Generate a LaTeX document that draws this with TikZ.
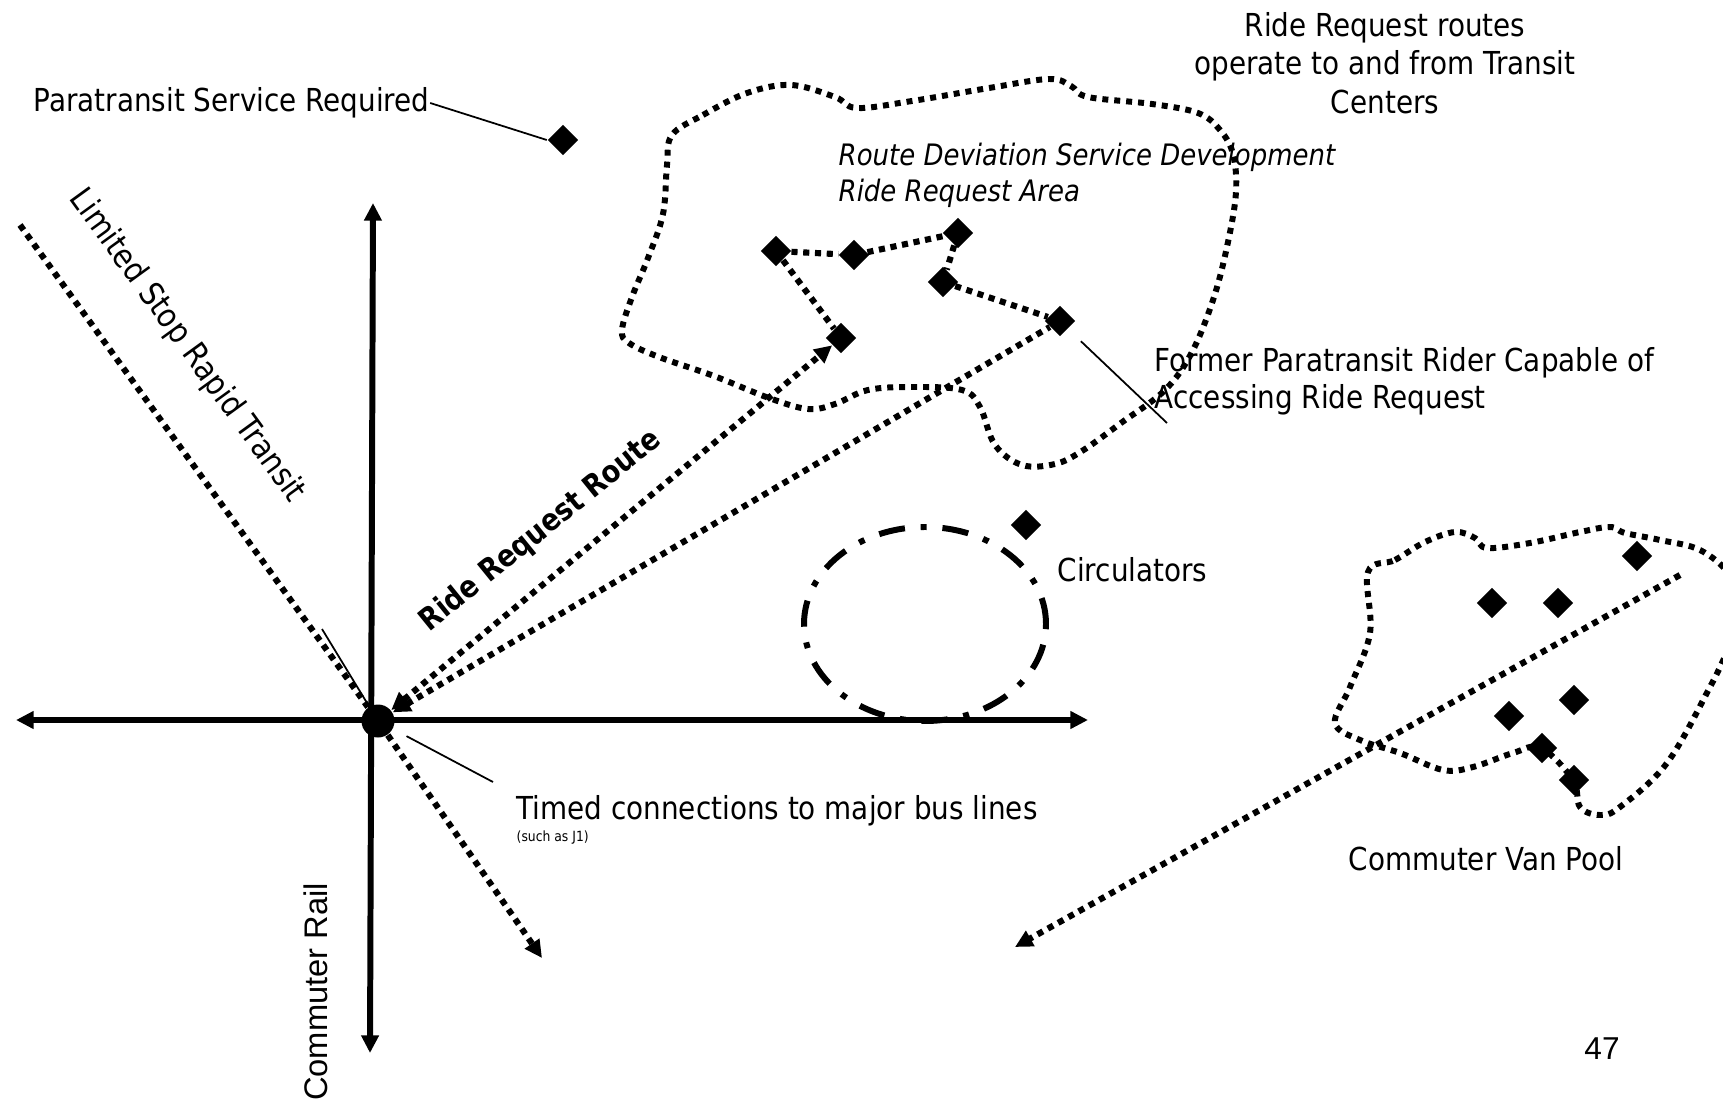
\documentclass[tikz,border=0pt]{standalone}
\usepackage{fontspec}
\setmainfont{DejaVu Sans}[FakeStretch=0.88]
\newfontfamily\railfont{Liberation Sans}
\usetikzlibrary{positioning, arrows.meta, shapes.geometric}

\begin{document}
\begin{tikzpicture}[
  font=\fontsize{9}{10.9}\selectfont,
  >={Triangle[length=5pt, width=4.8pt]},
  axis/.style={line width=1.7pt, <->},
  route/.style={line width=1.75pt, dash pattern=on 1.75pt off 1.6pt},
  zone/.style={line width=1.7pt, dash pattern=on 1.7pt off 1.7pt},
  ring/.style={ellipse, draw, line width=1.7pt, minimum width=2.42cm, minimum height=1.94cm,
               dash pattern=on 7.5pt off 4.5pt on 1.7pt off 4.5pt},
  stop/.style={diamond, fill=black, inner sep=0pt, minimum size=0.31cm},
  hub/.style={circle, fill=black, inner sep=0pt, minimum size=0.33cm},
  leader/.style={line width=0.5pt},
  lbl/.style={inner sep=0pt},
]
\path[use as bounding box, fill=white] (0,0) rectangle (17.23,-11);

% --- service areas ---
\draw[zone] plot[smooth cycle, tension=0.6] coordinates {
  (6.72,-1.35) (7.03,-1.15) (7.47,-0.93) (7.91,-0.85) (8.35,-0.97) (8.57,-1.08)
  (9.12,-1.01) (9.89,-0.88) (10.49,-0.79) (10.71,-0.86) (10.88,-0.97) (11.52,-1.04)
  (11.98,-1.13) (12.20,-1.30) (12.33,-1.54) (12.36,-1.92) (12.28,-2.42) (12.14,-2.97)
  (11.92,-3.52) (11.65,-3.90) (11.21,-4.23) (10.82,-4.51) (10.55,-4.64) (10.22,-4.65)
  (9.95,-4.45) (9.80,-4.07) (9.62,-3.90) (9.12,-3.87) (8.68,-3.90) (8.35,-4.04)
  (8.08,-4.09) (7.69,-3.98) (7.14,-3.76) (6.59,-3.57) (6.29,-3.43) (6.22,-3.30)
  (6.32,-2.97) (6.48,-2.58) (6.63,-2.14) (6.67,-1.65)};
\draw[zone] plot[smooth cycle, tension=0.6] coordinates {
  (13.68,-5.72) (13.95,-5.60) (14.25,-5.42) (14.55,-5.32) (14.75,-5.38) (14.87,-5.48)
  (15.30,-5.43) (15.80,-5.32) (16.10,-5.27) (16.25,-5.33) (16.60,-5.40) (17.00,-5.50)
  (17.30,-5.75) (17.45,-6.10) (17.30,-6.45) (17.10,-6.87) (16.67,-7.63) (16.20,-8.07)
  (16.00,-8.15) (15.80,-8.07) (15.73,-7.80) (15.41,-7.48) (15.13,-7.53) (14.73,-7.67)
  (14.43,-7.70) (14.00,-7.53) (13.60,-7.40) (13.35,-7.23) (13.50,-6.87) (13.70,-6.33)};
\node[ring] (circ) at (9.25,-6.24) {};

% --- axes and transit center ---
\coordinate (axW) at (0.16,-7.20);
\coordinate (axE) at (10.88,-7.20);
\coordinate (axN) at (3.73,-2.03);
\coordinate (axS) at (3.70,-10.53);
\coordinate (lsTop) at (0.20,-2.25);
\coordinate (lsEnd) at (5.42,-9.58);
\coordinate (lsLead) at (3.22,-6.29);
\coordinate (tcTip) at (4.93,-7.82);
\coordinate (vpStart) at (16.80,-5.75);
\coordinate (vpEnd) at (10.15,-9.47);
\coordinate (fprTip) at (11.67,-4.23);

\draw[axis] (axW) -- (axE);
\draw[axis] (axN) -- (axS);
\node[hub] (hub) at (3.78,-7.21) {};

% --- stops ---
\node[stop] (pdiam) at (5.63,-1.40) {};
\node[stop] (a) at (7.76,-2.51) {};
\node[stop] (b) at (8.54,-2.55) {};
\node[stop] (c) at (9.58,-2.33) {};
\node[stop] (d) at (9.43,-2.82) {};
\node[stop] (e) at (10.60,-3.21) {};
\node[stop] (f) at (8.41,-3.38) {};
\node[stop] (cstop) at (10.26,-5.25) {};
\node[stop] (v1) at (16.37,-5.56) {};
\node[stop] (v2) at (14.92,-6.03) {};
\node[stop] (v3) at (15.58,-6.03) {};
\node[stop] (v4) at (15.74,-7.00) {};
\node[stop] (v5) at (15.09,-7.16) {};
\node[stop] (v6) at (15.42,-7.48) {};
\node[stop] (v7) at (15.74,-7.80) {};

% --- routes ---
\draw[route] (a) -- (b);
\draw[route] (b) -- (c);
\draw[route] (c) -- (d);
\draw[route] (d) -- (e);
\draw[route] (a) -- (f);
\draw[route, <->] (hub) -- (f);
\draw[route, <-] (hub) -- (e);
\draw[route] (lsTop) -- (hub);
\draw[route, ->] (hub) -- (lsEnd);
\draw[route, ->] (vpStart) -- (vpEnd);

% --- labels ---
\node[lbl, anchor=west] (para) at (0.33,-1.03) {Paratransit Service Required};
\draw[leader] (para.east) -- (pdiam.west);
\node[lbl, align=center] (rrr) at (13.85,-0.63) {Ride Request routes\\operate to and from Transit\\Centers};
\node[lbl, anchor=west, align=left, font=\fontsize{8.4}{10.2}\selectfont\itshape] (rdsd) at (8.38,-1.75)
      {Route Deviation Service Development\\Ride Request Area};
\node[lbl, anchor=west, align=left, font=\fontsize{9}{10.5}\selectfont] (fpr) at (11.54,-3.81)
      {Former Paratransit Rider Capable of\\Accessing Ride Request};
\draw[leader, shorten <=5pt] (e.south east) -- (fprTip);
\node[lbl, anchor=west] (circlbl) at (10.57,-5.70) {Circulators};
\node[lbl, rotate=-54, font=\fontsize{9.3}{11}\selectfont] (lsrt) at (1.87,-3.46) {Limited Stop Rapid Transit};
\draw[leader] (lsLead) -- (hub);
\node[lbl, rotate=39, font=\fontsize{8.7}{10}\selectfont\bfseries] (rrlbl) at (5.41,-5.31) {Ride Request Route};
\node[lbl, anchor=west] (timed) at (5.16,-8.11) {Timed connections to major bus lines};
\node[lbl, anchor=west, font=\fontsize{4}{5}\selectfont] (j1) at (5.16,-8.38) {(such as J1)};
\draw[leader, shorten <=4.3pt] (hub) -- (tcTip);
\node[lbl, rotate=90, font=\railfont\fontsize{9.3}{11}\selectfont] (crail) at (3.16,-9.92) {Commuter Rail};
\node[lbl] (vpool) at (14.86,-8.59) {Commuter Van Pool};
\node[lbl, font=\railfont\fontsize{9}{11}\selectfont] (pgno) at (16.02,-10.49) {47};
\end{tikzpicture}
\end{document}
